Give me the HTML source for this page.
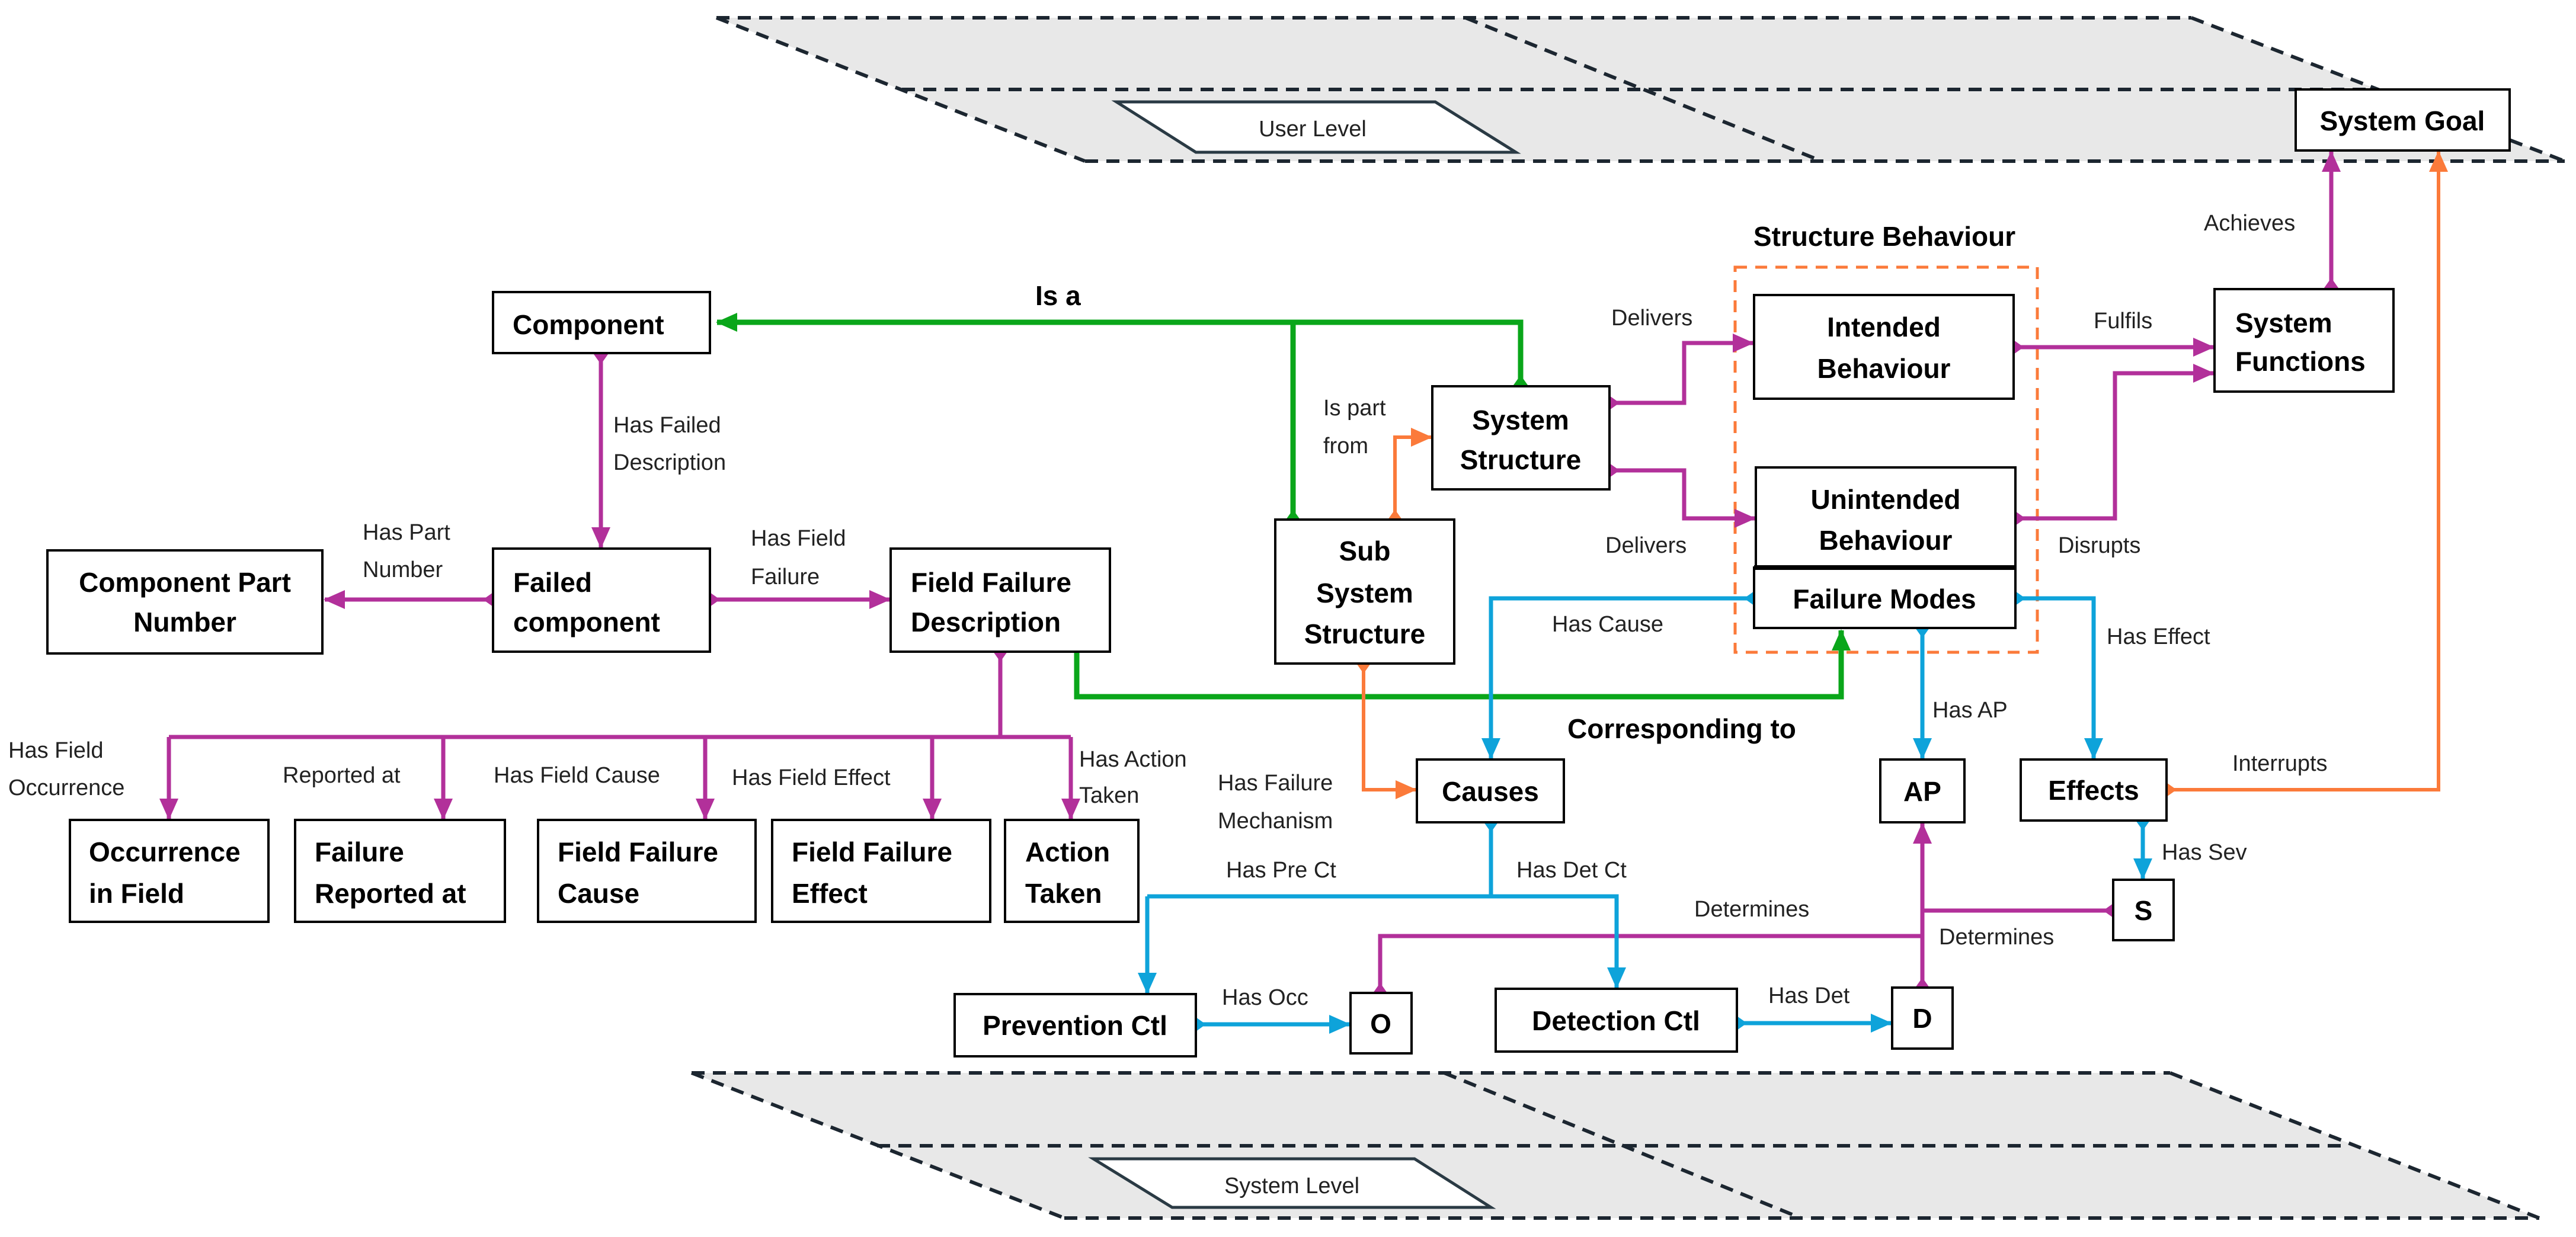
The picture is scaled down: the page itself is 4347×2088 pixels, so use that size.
<!DOCTYPE html>
<html><head><meta charset="utf-8"><style>
html,body{margin:0;padding:0;background:#fff;}
svg{display:block;}
.n{font-family:"Liberation Sans",sans-serif;font-weight:bold;font-size:46px;fill:#000;}
.l{font-family:"Liberation Sans",sans-serif;font-size:38px;fill:#222;}
.b{fill:#fff;stroke:#000;stroke-width:4;}
.m{stroke:#b2309a;stroke-width:7;fill:none;}
.g{stroke:#0aa61a;stroke-width:9;fill:none;}
.c{stroke:#0ea3da;stroke-width:7;fill:none;}
.o{stroke:#fb7a3a;stroke-width:6;fill:none;}
.dash{stroke:#1c2630;stroke-width:6;stroke-dasharray:22 14;fill:none;}
</style></head><body>
<svg width="4347" height="2088" viewBox="0 0 4347 2088" xmlns="http://www.w3.org/2000/svg">
<defs>
<marker id="am" markerUnits="userSpaceOnUse" markerWidth="40" markerHeight="40" refX="34" refY="18" orient="auto"><path d="M0,2 L36,18 L0,34 Z" fill="#b2309a"/></marker>
<marker id="ac" markerUnits="userSpaceOnUse" markerWidth="40" markerHeight="40" refX="34" refY="18" orient="auto"><path d="M0,2 L36,18 L0,34 Z" fill="#0ea3da"/></marker>
<marker id="ag" markerUnits="userSpaceOnUse" markerWidth="40" markerHeight="40" refX="34" refY="18" orient="auto"><path d="M0,2 L36,18 L0,34 Z" fill="#0aa61a"/></marker>
<marker id="ao" markerUnits="userSpaceOnUse" markerWidth="40" markerHeight="40" refX="34" refY="18" orient="auto"><path d="M0,2 L36,18 L0,34 Z" fill="#fb7a3a"/></marker>
<marker id="dm" markerUnits="userSpaceOnUse" markerWidth="36" markerHeight="30" refX="17" refY="15" orient="auto"><path d="M0,15 L17,3 L34,15 L17,27 Z" fill="#b2309a"/></marker>
<marker id="dc" markerUnits="userSpaceOnUse" markerWidth="36" markerHeight="30" refX="17" refY="15" orient="auto"><path d="M0,15 L17,3 L34,15 L17,27 Z" fill="#0ea3da"/></marker>
<marker id="dg" markerUnits="userSpaceOnUse" markerWidth="36" markerHeight="30" refX="17" refY="15" orient="auto"><path d="M0,15 L17,3 L34,15 L17,27 Z" fill="#0aa61a"/></marker>
<marker id="do" markerUnits="userSpaceOnUse" markerWidth="36" markerHeight="30" refX="17" refY="15" orient="auto"><path d="M0,15 L17,3 L34,15 L17,27 Z" fill="#fb7a3a"/></marker>
</defs>

<polygon points="1209,30 3698,30 4328,272 1831,272" fill="#e8e8e8"/>
<path class="dash" d="M1209,30 H3698 M1522,151 H4006 M1831,272 H4328 M1209,30 L1831,272 M3698,30 L4328,272 M2473,30 L3074,272"/>
<polygon points="1884,172 2422,172 2558,257 2018,257" fill="#fff" stroke="#2a3a44" stroke-width="5"/>
<text class="l" x="2215" y="230" text-anchor="middle" font-size="44">User Level</text>

<polygon points="1167,1811 3662,1811 4285,2056 1796,2056" fill="#e8e8e8"/>
<path class="dash" d="M1167,1811 H3662 M1480,1934 H3963 M1796,2056 H4285 M1167,1811 L1796,2056 M3662,1811 L4285,2056 M2437,1811 L3039,2056"/>
<polygon points="1845,1956 2387,1956 2516,2038 1978,2038" fill="#fff" stroke="#2a3a44" stroke-width="5"/>
<text class="l" x="2180" y="2014" text-anchor="middle" font-size="44">System Level</text>

<rect x="2928" y="451" width="510" height="650" fill="none" stroke="#fb7a3a" stroke-width="5" stroke-dasharray="20 14"/>
<text class="n" x="3180" y="415" text-anchor="middle">Structure Behaviour</text>

<path class="g" d="M2182,877 V544 H1210" marker-end="url(#ag)" marker-start="url(#dg)"/>
<path class="g" d="M2182,544 H2566 V650" marker-end="url(#dg)"/>
<path class="g" d="M1817,1100 V1176 H3107 V1064" marker-end="url(#ag)"/>
<path class="m" d="M1014,598 V924" marker-start="url(#dm)" marker-end="url(#am)"/>
<path class="m" d="M832,1012 H548" marker-start="url(#dm)" marker-end="url(#am)"/>
<path class="m" d="M1198,1012 H1501" marker-start="url(#dm)" marker-end="url(#am)"/>
<path class="m" d="M1688,1100 V1244"  marker-start="url(#dm)"/>
<path class="m" d="M285,1244 H1807"/>
<path class="m" d="M285,1244 V1382" marker-end="url(#am)"/>
<path class="m" d="M748,1244 V1382" marker-end="url(#am)"/>
<path class="m" d="M1190,1244 V1382" marker-end="url(#am)"/>
<path class="m" d="M1573,1244 V1382" marker-end="url(#am)"/>
<path class="m" d="M1807,1244 V1382" marker-end="url(#am)"/>
<path class="m" d="M2716,680 H2842 V579 H2958" marker-start="url(#dm)" marker-end="url(#am)"/>
<path class="m" d="M2716,794 H2842 V875 H2961" marker-start="url(#dm)" marker-end="url(#am)"/>
<path class="m" d="M3398,586 H3735" marker-start="url(#dm)" marker-end="url(#am)"/>
<path class="m" d="M3401,875 H3569 V630 H3735" marker-start="url(#dm)" marker-end="url(#am)"/>
<path class="m" d="M3934,486 V256" marker-start="url(#dm)" marker-end="url(#am)"/>
<path class="m" d="M3244,1667 V1390" marker-start="url(#dm)" marker-end="url(#am)"/>
<path class="m" d="M3566,1537 H3244" marker-start="url(#dm)"/>
<path class="m" d="M3244,1580 H2329 V1676" marker-end="url(#dm)"/>
<path class="o" d="M2354,877 V738 H2415" marker-start="url(#do)" marker-end="url(#ao)"/>
<path class="o" d="M2301,1120 V1333 H2389" marker-start="url(#do)" marker-end="url(#ao)"/>
<path class="o" d="M3656,1333 H4115 V256" marker-start="url(#do)" marker-end="url(#ao)"/>
<path class="c" d="M2960,1010 H2516 V1280" marker-start="url(#dc)" marker-end="url(#ac)"/>
<path class="c" d="M3401,1010 H3533 V1280" marker-start="url(#dc)" marker-end="url(#ac)"/>
<path class="c" d="M3244,1060 V1280" marker-start="url(#dc)" marker-end="url(#ac)"/>
<path class="c" d="M3616,1385 V1483" marker-start="url(#dc)" marker-end="url(#ac)"/>
<path class="c" d="M2516,1388 V1513" marker-start="url(#dc)"/>
<path class="c" d="M1936,1513 H2728 V1667" marker-end="url(#ac)"/>
<path class="c" d="M1936,1513 V1676" marker-end="url(#ac)"/>
<path class="c" d="M2018,1729 H2277" marker-start="url(#dc)" marker-end="url(#ac)"/>
<path class="c" d="M2931,1727 H3191" marker-start="url(#dc)" marker-end="url(#ac)"/>

<rect class="b" x="832" y="493" width="366" height="103"/>
<rect class="b" x="80" y="929" width="464" height="174"/>
<rect class="b" x="832" y="926" width="366" height="174"/>
<rect class="b" x="1503" y="926" width="370" height="174"/>
<rect class="b" x="2960" y="498" width="438" height="175"/>
<rect class="b" x="2963" y="789" width="438" height="169"/>
<rect class="b" x="2960" y="958" width="441" height="102"/>
<line x1="2960" y1="958" x2="3401" y2="958" stroke="#000" stroke-width="8"/>
<rect class="b" x="2417" y="652" width="299" height="174"/>
<rect class="b" x="2152" y="877" width="302" height="243"/>
<rect class="b" x="3737" y="488" width="302" height="173"/>
<rect class="b" x="3874" y="151" width="361" height="103"/>
<rect class="b" x="2391" y="1282" width="248" height="106"/>
<rect class="b" x="3173" y="1282" width="142" height="106"/>
<rect class="b" x="3410" y="1282" width="246" height="103"/>
<rect class="b" x="3566" y="1485" width="102" height="102"/>
<rect class="b" x="1611" y="1678" width="407" height="105"/>
<rect class="b" x="2524" y="1669" width="407" height="106"/>
<rect class="b" x="2279" y="1676" width="103" height="102"/>
<rect class="b" x="3193" y="1667" width="102" height="103"/>
<rect class="b" x="118" y="1384" width="335" height="172"/>
<rect class="b" x="498" y="1384" width="354" height="172"/>
<rect class="b" x="908" y="1384" width="367" height="172"/>
<rect class="b" x="1303" y="1384" width="368" height="172"/>
<rect class="b" x="1696" y="1384" width="225" height="172"/>

<text class="n" x="865" y="564">Component</text>
<text class="n" x="312" y="999" text-anchor="middle">Component Part</text>
<text class="n" x="312" y="1066" text-anchor="middle">Number</text>
<text class="n" x="866" y="999">Failed</text>
<text class="n" x="866" y="1066">component</text>
<text class="n" x="1537" y="999">Field Failure</text>
<text class="n" x="1537" y="1066">Description</text>
<text class="n" x="3179" y="568" text-anchor="middle">Intended</text>
<text class="n" x="3179" y="638" text-anchor="middle">Behaviour</text>
<text class="n" x="3182" y="859" text-anchor="middle">Unintended</text>
<text class="n" x="3182" y="928" text-anchor="middle">Behaviour</text>
<text class="n" x="3180" y="1027" text-anchor="middle">Failure Modes</text>
<text class="n" x="2566" y="725" text-anchor="middle">System</text>
<text class="n" x="2566" y="792" text-anchor="middle">Structure</text>
<text class="n" x="2303" y="946" text-anchor="middle">Sub</text>
<text class="n" x="2303" y="1017" text-anchor="middle">System</text>
<text class="n" x="2303" y="1086" text-anchor="middle">Structure</text>
<text class="n" x="3772" y="561">System</text>
<text class="n" x="3772" y="626">Functions</text>
<text class="n" x="4054" y="220" text-anchor="middle">System Goal</text>
<text class="n" x="1747" y="515">Is a</text>
<text class="n" x="2645" y="1246">Corresponding to</text>
<text class="n" x="2515" y="1352" text-anchor="middle">Causes</text>
<text class="n" x="3244" y="1352" text-anchor="middle">AP</text>
<text class="n" x="3533" y="1350" text-anchor="middle">Effects</text>
<text class="n" x="3617" y="1553" text-anchor="middle">S</text>
<text class="n" x="2330" y="1744" text-anchor="middle">O</text>
<text class="n" x="3244" y="1735" text-anchor="middle">D</text>
<text class="n" x="1814" y="1747" text-anchor="middle">Prevention Ctl</text>
<text class="n" x="2727" y="1739" text-anchor="middle">Detection Ctl</text>
<text class="n" x="150" y="1454">Occurrence</text>
<text class="n" x="150" y="1524">in Field</text>
<text class="n" x="531" y="1454">Failure</text>
<text class="n" x="531" y="1524">Reported at</text>
<text class="n" x="941" y="1454">Field Failure</text>
<text class="n" x="941" y="1524">Cause</text>
<text class="n" x="1336" y="1454">Field Failure</text>
<text class="n" x="1336" y="1524">Effect</text>
<text class="n" x="1730" y="1454">Action</text>
<text class="n" x="1730" y="1524">Taken</text>

<text class="l" x="1035" y="730">Has Failed</text>
<text class="l" x="1035" y="793">Description</text>
<text class="l" x="612" y="911">Has Part</text>
<text class="l" x="612" y="974">Number</text>
<text class="l" x="1267" y="921">Has Field</text>
<text class="l" x="1267" y="986">Failure</text>
<text class="l" x="14" y="1279">Has Field</text>
<text class="l" x="14" y="1342">Occurrence</text>
<text class="l" x="477" y="1321">Reported at</text>
<text class="l" x="833" y="1321">Has Field Cause</text>
<text class="l" x="1235" y="1325">Has Field Effect</text>
<text class="l" x="1821" y="1294">Has Action</text>
<text class="l" x="1821" y="1355">Taken</text>
<text class="l" x="2055" y="1334">Has Failure</text>
<text class="l" x="2055" y="1398">Mechanism</text>
<text class="l" x="2069" y="1481">Has Pre Ct</text>
<text class="l" x="2559" y="1481">Has Det Ct</text>
<text class="l" x="2062" y="1696">Has Occ</text>
<text class="l" x="2984" y="1693">Has Det</text>
<text class="l" x="2859" y="1547">Determines</text>
<text class="l" x="3272" y="1594">Determines</text>
<text class="l" x="3261" y="1211">Has AP</text>
<text class="l" x="3648" y="1451">Has Sev</text>
<text class="l" x="3767" y="1301">Interrupts</text>
<text class="l" x="3555" y="1087">Has Effect</text>
<text class="l" x="2619" y="1066">Has Cause</text>
<text class="l" x="2233" y="701">Is part</text>
<text class="l" x="2233" y="765">from</text>
<text class="l" x="2719" y="549">Delivers</text>
<text class="l" x="2709" y="933">Delivers</text>
<text class="l" x="3533" y="554">Fulfils</text>
<text class="l" x="3473" y="933">Disrupts</text>
<text class="l" x="3719" y="389">Achieves</text>
</svg>
</body></html>
